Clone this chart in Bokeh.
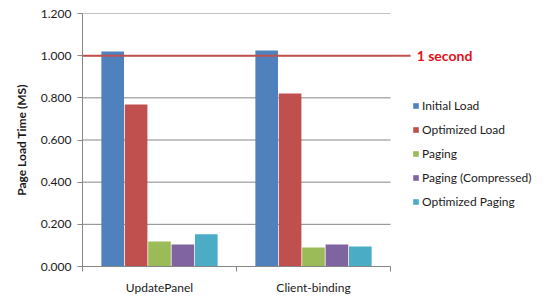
from bokeh.plotting import figure
from bokeh.models import Range1d, FixedTicker, Legend, LegendItem, Label, NumeralTickFormatter
from bokeh.embed import file_html
from bokeh.resources import INLINE

categories = ["UpdatePanel", "Client-binding"]
series_names = ["Initial Load", "Optimized Load", "Paging", "Paging (Compressed)", "Optimized Paging"]
initial_load = [1.020, 1.025]
optimized_load = [0.768, 0.821]
paging = [0.119, 0.090]
paging_compressed = [0.104, 0.104]
optimized_paging = [0.153, 0.095]
series_colors = ["#4F81BD", "#C0504D", "#9BBB59", "#8064A2", "#4BACC6"]
y_ticks = [0.0, 0.2, 0.4, 0.6, 0.8, 1.0, 1.2]
threshold = 1.0
threshold_label = "1 second"

FONT = "Lato"
GRAY = "#868686"

n = len(categories)
# plotting area spans n category bands; the frame extends further right to host legend/labels
x_end = n * (546 - 82) / 308
p = figure(width=546, height=305, output_backend="svg", toolbar_location=None,
           x_range=Range1d(0, x_end), y_range=Range1d(0, 1.2),
           min_border_left=82, min_border_right=0, min_border_top=13, min_border_bottom=39)
p.outline_line_color = None
p.xgrid.grid_line_color = None
p.ygrid.grid_line_color = None

# horizontal gridlines limited to the category area
p.segment(x0=[0] * len(y_ticks), x1=[n] * len(y_ticks), y0=y_ticks, y1=y_ticks,
          line_color=GRAY, line_width=1)

# y axis
p.yaxis.ticker = FixedTicker(ticks=y_ticks)
p.yaxis.formatter = NumeralTickFormatter(format="0.000")
p.yaxis.axis_line_color = GRAY
p.yaxis.major_tick_line_color = GRAY
p.yaxis.major_tick_out = 5
p.yaxis.major_tick_in = 0
p.yaxis.minor_tick_line_color = None
p.yaxis.major_label_standoff = 6
p.yaxis.major_label_text_font = FONT
p.yaxis.major_label_text_font_size = "12px"
p.yaxis.major_label_text_color = "#1a1a1a"
p.yaxis.axis_label = "Page Load Time (MS)"
p.yaxis.axis_label_text_font = FONT
p.yaxis.axis_label_text_font_size = "12px"
p.yaxis.axis_label_text_font_style = "bold"
p.yaxis.axis_label_text_color = "#1a1a1a"
p.yaxis.axis_label_standoff = 9

# x axis: labels at category centres, ticks at boundaries
centers = [i + 0.5 for i in range(n)]
p.xaxis.bounds = (0, n)
p.xaxis.ticker = FixedTicker(ticks=centers, minor_ticks=list(range(n + 1)))
p.xaxis.major_label_overrides = {c: lab for c, lab in zip(centers, categories)}
p.xaxis.axis_line_color = GRAY
p.xaxis.major_tick_line_color = None
p.xaxis.major_tick_out = 0
p.xaxis.major_tick_in = 0
p.xaxis.minor_tick_line_color = GRAY
p.xaxis.minor_tick_out = 5
p.xaxis.minor_tick_in = 0
p.xaxis.major_label_standoff = 8
p.xaxis.major_label_text_font = FONT
p.xaxis.major_label_text_font_size = "12px"
p.xaxis.major_label_text_color = "#1a1a1a"

all_series = [initial_load, optimized_load, paging, paging_compressed, optimized_paging]
step = 0.152
bar_w = 0.147
items = []
for i, (name, vals, col) in enumerate(zip(series_names, all_series, series_colors)):
    xs = [c + (i - (len(all_series) - 1) / 2) * step for c in centers]
    r = p.vbar(x=xs, top=vals, bottom=0, width=bar_w, fill_color=col, line_color=None)
    items.append(LegendItem(label=name, renderers=[r]))

legend = Legend(items=items, location=(330, 57), orientation="vertical",
                glyph_width=7, glyph_height=7, label_height=15, spacing=9,
                label_standoff=3, padding=0, margin=0,
                border_line_color=None, background_fill_alpha=0,
                label_text_font=FONT, label_text_font_size="12px", label_text_color="#1a1a1a")
p.add_layout(legend)

# threshold line, running a little past the category area
p.segment(x0=[0], x1=[n + 0.13], y0=[threshold], y1=[threshold],
          line_color="#C0504D", line_width=2)
p.add_layout(Label(x=n + 0.17, y=threshold, text=threshold_label, text_baseline="middle",
                   text_font=FONT, text_font_size="14px", text_font_style="bold",
                   text_color="#E3101A"))

open("out.html", "w").write(file_html(p, INLINE))
